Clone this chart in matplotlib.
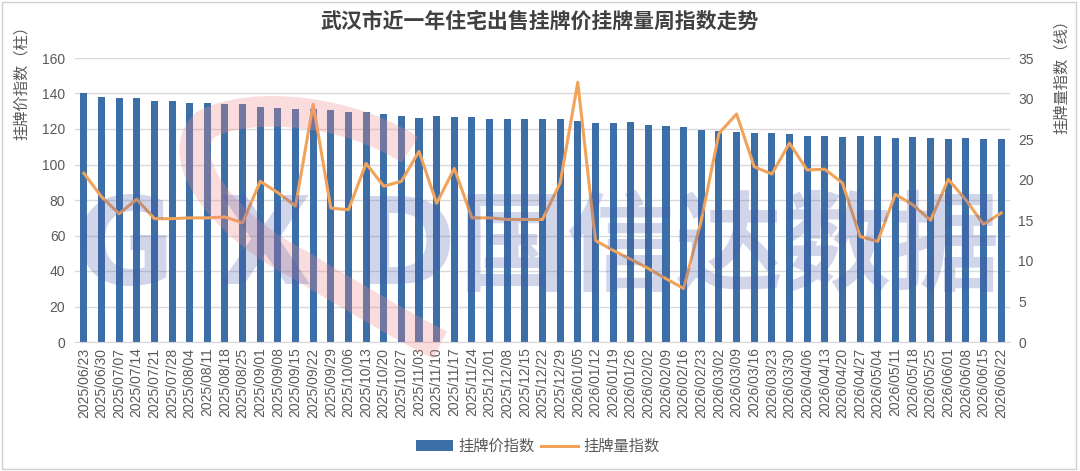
import matplotlib.pyplot as plt
import numpy as np
from matplotlib.patches import Rectangle, PathPatch
from matplotlib.path import Path

plt.rcParams['font.family'] = ['Liberation Sans', 'Noto Sans CJK SC']

dates = ['2025/06/23', '2025/06/30', '2025/07/07', '2025/07/14', '2025/07/21', '2025/07/28',
         '2025/08/04', '2025/08/11', '2025/08/18', '2025/08/25', '2025/09/01', '2025/09/08',
         '2025/09/15', '2025/09/22', '2025/09/29', '2025/10/06', '2025/10/13', '2025/10/20',
         '2025/10/27', '2025/11/03', '2025/11/10', '2025/11/17', '2025/11/24', '2025/12/01',
         '2025/12/08', '2025/12/15', '2025/12/22', '2025/12/29', '2026/01/05', '2026/01/12',
         '2026/01/19', '2026/01/26', '2026/02/02', '2026/02/09', '2026/02/16', '2026/02/23',
         '2026/03/02', '2026/03/09', '2026/03/16', '2026/03/23', '2026/03/30', '2026/04/06',
         '2026/04/13', '2026/04/20', '2026/04/27', '2026/05/04', '2026/05/11', '2026/05/18',
         '2026/05/25', '2026/06/01', '2026/06/08', '2026/06/15', '2026/06/22']

# 挂牌价指数 (bars, left axis)
price_idx = [140.3, 137.8, 137.2, 137.2, 135.9, 135.5, 134.8, 134.9, 134.2, 134.2,
             132.5, 132.0, 131.2, 131.0, 130.8, 129.7, 129.3, 128.2, 127.6, 126.1,
             127.3, 126.9, 126.9, 125.8, 125.8, 125.4, 125.4, 125.4, 124.6, 123.5,
             123.5, 124.1, 122.0, 121.6, 120.9, 119.5, 118.6, 118.4, 118.0, 118.0,
             117.1, 116.2, 115.8, 115.6, 115.8, 115.8, 115.2, 115.6, 115.2, 114.5,
             114.8, 114.5, 114.5]

# 挂牌量指数 (line, right axis)
volume_idx = [20.8, 17.9, 15.8, 17.6, 15.2, 15.2, 15.3, 15.3, 15.4, 14.7,
              19.8, 18.4, 16.75, 29.3, 16.5, 16.3, 22.0, 19.2, 19.8, 23.5,
              17.1, 21.4, 15.3, 15.3, 15.1, 15.1, 15.1, 19.6, 32.0, 12.5,
              11.3, 10.2, 9.05, 7.8, 6.6, 15.0, 25.7, 28.1, 21.6, 20.7,
              24.5, 21.2, 21.3, 19.6, 13.0, 12.4, 18.2, 16.9, 15.0, 20.05,
              17.5, 14.5, 15.9]

bar_color = '#3C6EA8'
line_color = '#F2A35A'
text_color = '#595959'
W, H = 1080, 471


def fx(px):
    return px / W


def fy(py):
    return 1 - py / H


fig = plt.figure(figsize=(10.8, 4.71), dpi=100)
ax = fig.add_axes([fx(75), fy(342), 935 / W, 284 / H])

x = np.arange(len(dates))
ax.bar(x, price_idx, width=0.4, color=bar_color, zorder=2, label='挂牌价指数')
ax.set_xlim(-0.5, len(dates) - 0.5)
ax.set_ylim(0, 160)
ax.set_yticks(range(0, 161, 20))
ax.grid(axis='y', color='#D9D9D9', linewidth=1, zorder=0)
ax.set_xticks(x)
ax.set_xticklabels(dates, rotation=90, fontsize=10, color=text_color)
ax.tick_params(axis='y', labelsize=10, colors=text_color, length=0, pad=7)
ax.tick_params(axis='x', length=0, pad=4)
for s in ['top', 'right', 'left']:
    ax.spines[s].set_visible(False)
ax.spines['bottom'].set_color('#D9D9D9')

ax2 = ax.twinx()
ax2.plot(x, volume_idx, color=line_color, linewidth=2.2, zorder=3, label='挂牌量指数')
ax2.set_ylim(0, 35)
ax2.set_yticks(range(0, 36, 5))
ax2.tick_params(axis='y', labelsize=10, colors=text_color, length=0, pad=6)
for s in ['top', 'right', 'left', 'bottom']:
    ax2.spines[s].set_visible(False)

# watermark: red swoosh + GXD 国信达数据
pts = [(410, 150), (350, 110), (250, 100), (205, 125),
       (170, 160), (230, 230), (300, 265),
       (350, 295), (400, 325), (440, 345)]
verts = [(fx(a), fy(b)) for a, b in pts]
codes = [Path.MOVETO] + [Path.CURVE4] * 9
fig.add_artist(PathPatch(Path(verts, codes), transform=fig.transFigure, fill=False,
                         edgecolor='#F08C8C', linewidth=22, alpha=0.3, zorder=5,
                         capstyle='butt'))
for ch, cx in zip('GXD', [125, 265, 405]):
    fig.text(fx(cx), fy(250), ch, fontsize=88, fontweight='bold', color='#4A5AAE',
             alpha=0.25, ha='center', va='center', family='DejaVu Sans', zorder=5)
fig.text(fx(730), fy(250), '国信达数据', fontsize=78, fontweight='bold', color='#4A5AAE',
         alpha=0.25, ha='center', va='center', family='Noto Sans CJK SC', zorder=5)

fig.text(0.5, fy(22), '武汉市近一年住宅出售挂牌价挂牌量周指数走势', fontsize=15,
         fontweight='bold', color='#404040', ha='center', va='center')
fig.text(fx(22), fy(79), '挂牌价指数（柱）', rotation=90, fontsize=11,
         color=text_color, ha='center', va='center')
fig.text(fx(1062), fy(73), '挂牌量指数（线）', rotation=90, fontsize=11,
         color=text_color, ha='center', va='center')

h1, l1 = ax.get_legend_handles_labels()
h2, l2 = ax2.get_legend_handles_labels()
fig.legend(h1 + h2, l1 + l2, loc='center', bbox_to_anchor=(fx(538), fy(447)),
           ncol=2, frameon=False, fontsize=11, handlelength=2.4, columnspacing=0.4,
           handletextpad=0.4, labelcolor=text_color)

fig.add_artist(Rectangle((0.002, 0.004), 0.994, 0.992, transform=fig.transFigure,
                         fill=False, edgecolor='#D0D0D0', linewidth=1))

fig.savefig('out.png', dpi=100)
